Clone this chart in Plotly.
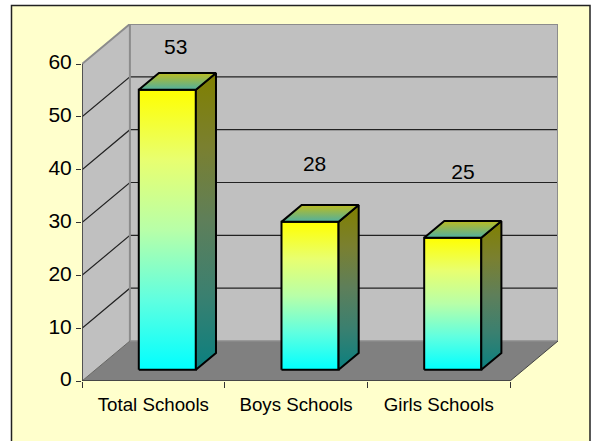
import plotly.graph_objects as go

categories = ["Total Schools", "Boys Schools", "Girls Schools"]
values = [53, 28, 25]
value_ticks = [0, 10, 20, 30, 40, 50, 60]

W, H = 591, 441
PX_L, PX_R, PX_T, PX_B = 82, 558, 24, 381
PX_PER_CAT = 143.0
PX_PER_VAL = 317.0 / 60
DX = 48 / PX_PER_CAT          # depth shift across the whole floor
DY = 40 / PX_PER_VAL
N = len(categories)
VMAX = value_ticks[-1]
XMAX = N + DX
YMAX = VMAX + DY
BAR_W = 0.40
BAR_SHIFT = 0.004
D0, D1 = 0.28, 0.70
LABEL_DX = [0.657, 0.630, 0.670]
LABEL_DY = [9.8, 12.7, 14.2]


def px(cat, val, depth=0.0):
    return cat + DX * depth, val + DY * depth


def poly(points):
    xy = [px(*p) for p in points]
    return [a for a, _ in xy], [b for _, b in xy]


def grad(y0, y1, colors):
    return dict(type="vertical", start=y0, stop=y1, colorscale=colors)


fig = go.Figure()


def face(points, fill=None, gradient=None, line="rgba(0,0,0,0)", width=0):
    x, y = poly(points)
    kw = dict(fillgradient=gradient) if gradient else dict(fillcolor=fill)
    fig.add_trace(go.Scatter(x=x, y=y, mode="lines", fill="toself",
                             line=dict(color=line, width=width),
                             hoverinfo="skip", showlegend=False, **kw))


def segment(points, color, width):
    x, y = poly(points)
    fig.add_trace(go.Scatter(x=x, y=y, mode="lines", line=dict(color=color, width=width),
                             hoverinfo="skip", showlegend=False, cliponaxis=False))


# walls and floor
face([(0, 0, 1), (N, 0, 1), (N, VMAX, 1), (0, VMAX, 1), (0, 0, 1)], fill="#C0C0C0")
face([(0, 0, 0), (0, 0, 1), (0, VMAX, 1), (0, VMAX, 0), (0, 0, 0)], fill="#C0C0C0")
face([(0, 0, 0), (N, 0, 0), (N, 0, 1), (0, 0, 1), (0, 0, 0)], fill="#808080")
for v in value_ticks[1:-1]:
    segment([(0, v, 0), (0, v, 1), (N, v, 1)], "#222222", 1.2)
segment([(0, 0, 1), (N, 0, 1)], "#8C8C8C", 1.5)
segment([(0, VMAX, 0), (0, VMAX, 1), (N, VMAX, 1), (N, 0, 1)], "#8C8C8C", 2)
segment([(0, 0, 1), (0, VMAX, 1)], "#8C8C8C", 2)
segment([(N, 0, 0), (N, 0, 1)], "#444444", 1)
segment([(0, 0, 0), (0, 0, 1)], "#666666", 1)

# bars
FRONT = [[0, "#00FFFF"], [0.25, "#60FFE0"], [0.5, "#B8FFA8"], [0.75, "#E8FF70"], [1, "#FFFF00"]]
SIDE = [[0, "#0A8080"], [0.25, "#3A8070"], [0.5, "#5E7F5A"], [0.75, "#7A8030"], [1, "#808000"]]
TOP = [[0, "#50B0A0"], [1, "#BCBC20"]]
for i, v in enumerate(values):
    a = i + 0.5 + BAR_SHIFT - BAR_W / 2
    b = i + 0.5 + BAR_SHIFT + BAR_W / 2
    y0 = DY * D0
    y1 = v + DY * D0
    face([(a, 0, D0), (b, 0, D0), (b, v, D0), (a, v, D0), (a, 0, D0)],
         gradient=grad(y0, y1, FRONT), line="#000000", width=2)
    face([(b, 0, D0), (b, 0, D1), (b, v, D1), (b, v, D0), (b, 0, D0)],
         gradient=grad(y0, v + DY * D1, SIDE), line="#000000", width=2)
    face([(a, v, D0), (b, v, D0), (b, v, D1), (a, v, D1), (a, v, D0)],
         gradient=grad(y1, v + DY * D1, TOP), line="#000000", width=2)

# axis lines drawn only over the value span
segment([(0, 0, 0), (0, VMAX, 0)], "#444444", 1.8)
segment([(0, 0, 0), (N, 0, 0)], "#333333", 1.5)

# data labels
fig.add_trace(go.Scatter(
    x=[i + d for i, d in enumerate(LABEL_DX)],
    y=[v + d for v, d in zip(values, LABEL_DY)],
    mode="text", text=[str(v) for v in values],
    textfont=dict(family="Liberation Sans", size=21, color="#000000"),
    textposition="middle center", hoverinfo="skip", showlegend=False, cliponaxis=False))

PW, PH = PX_R - PX_L, PX_B - PX_T
frame = dict(type="rect", xref="paper", yref="paper", layer="below",
             x0=(11.5 - PX_L) / PW, x1=(590 - PX_L) / PW,
             y0=(PX_B - 445) / PH, y1=(PX_B - 5.5) / PH,
             fillcolor="#FFFFCC", line=dict(color="#222222", width=1.5))

fig.update_layout(
    width=W, height=H, autosize=False,
    margin=dict(l=PX_L, r=W - PX_R, t=PX_T, b=H - PX_B, pad=0),
    paper_bgcolor="#FFFFFF", plot_bgcolor="rgba(0,0,0,0)",
    showlegend=False, shapes=[frame],
    font=dict(family="Liberation Sans", color="#000000"),
    xaxis=dict(range=[0, XMAX], showgrid=False, zeroline=False, showline=False,
               tickmode="array", tickvals=[i + 0.5 for i in range(N)], ticktext=categories,
               ticks="", tickfont=dict(size=18.7), ticklabelstandoff=10,
               minor=dict(tickmode="array", tickvals=list(range(N + 1)), ticks="outside",
                          ticklen=6, tickcolor="#333333", tickwidth=1, showgrid=False)),
    yaxis=dict(range=[0, YMAX], showgrid=False, zeroline=False, showline=False,
               tickmode="array", tickvals=value_ticks, ticks="outside", ticklen=5,
               tickcolor="#333333", tickwidth=1, tickfont=dict(size=21), ticklabelshift=-2),
)

fig.write_html("out.html", config=dict(displayModeBar=False),
               post_script="document.body.style.margin='0';document.body.style.overflow='hidden';")
